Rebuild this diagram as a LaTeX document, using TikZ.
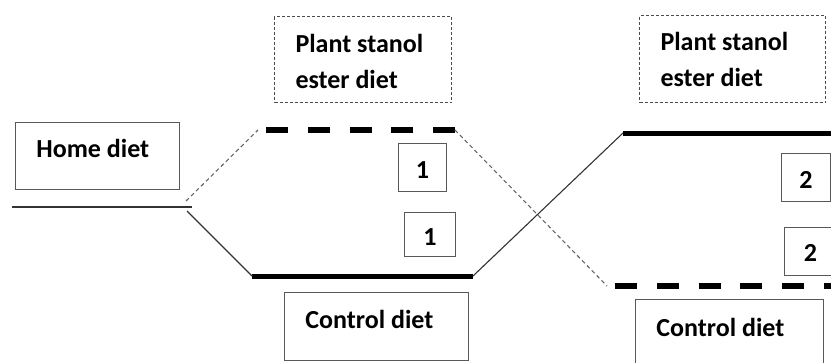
\documentclass[tikz,border=0pt]{standalone}
\usepackage{fontspec}
\setmainfont{Carlito}
\begin{document}
\begin{tikzpicture}[x=1pt,y=-1pt,
  lbl/.style={inner ysep=0pt, inner xsep=21pt, align=flush left, font=\bfseries\fontsize{26}{36}\selectfont, anchor=north west},
  solidbox/.style={lbl, draw=black!65, line width=0.9pt},
  dotbox/.style={lbl, draw=black!70, line width=1pt, dash pattern=on 3pt off 2pt},
  numbox/.style={draw=black!65, line width=0.9pt, inner sep=0pt, font=\bfseries\fontsize{26}{36}\selectfont, anchor=north west, align=center},
  thinline/.style={draw=black!80, line width=1.1pt},
  thindash/.style={draw=black!60, line width=1.1pt, dash pattern=on 4pt off 3pt},
  thickline/.style={draw=black, line width=5pt},
  thickdash/.style={draw=black, line width=5.5pt, dash pattern=on 22pt off 19.8pt}
]
\useasboundingbox (0,0) rectangle (831,362);

% boxes
\node[solidbox, text width=122pt, text height=35pt, text depth=32pt] (home) at (15,122) {Home diet};
\node[dotbox, text width=135pt, text height=36pt, text depth=50pt] (ps1) at (274,16) {Plant stanol\\ester diet};
\node[dotbox, text width=144pt, text height=35pt, text depth=52pt] (ps2) at (639,15) {Plant stanol\\ester diet};
\node[solidbox, text width=142pt, text height=36pt, text depth=32pt] (cd1) at (284,292) {Control diet};
\node[solidbox, text width=146pt, text height=37pt, text depth=40pt] (cd2) at (635,299) {Control diet};

\node[numbox, minimum width=48pt, text height=35pt, text depth=13pt] (n1a) at (398,143) {1};
\node[numbox, minimum width=51pt, text height=33pt, text depth=11pt] (n1b) at (404,212) {1};
\node[numbox, minimum width=49pt, text height=35pt, text depth=13pt] (n2a) at (781,153) {2};
\node[numbox, minimum width=52pt, text height=34pt, text depth=14pt] (n2b) at (784,227) {2};

% level coordinates
\coordinate (h1) at (12,207);
\coordinate (h2) at (192,207);
\coordinate (hu) at (186,201);
\coordinate (hd) at (187,211);
\coordinate (t0) at (258,130);
\coordinate (t1) at (266,130);
\coordinate (t2) at (455,130);
\coordinate (b1) at (252,276);
\coordinate (b2) at (473,276);
\coordinate (r1) at (623,133);
\coordinate (r2) at (831,133);
\coordinate (s0) at (607,286);
\coordinate (s1) at (615,286);
\coordinate (s2) at (835,286);

% levels
\draw[thinline] (h1) -- (h2);
\draw[thickdash] (t1) -- (t2);
\draw[thickline] (b1) -- (b2);
\draw[thickline] (r1) -- (r2);
\draw[thickdash] (s1) -- (s2);

% connectors
\draw[thindash] (hu) -- (t0);
\draw[thinline] (hd) -- (b1);
\draw[thindash] (t2) -- (s0);
\draw[thinline] (b2) -- (r1);
\end{tikzpicture}
\end{document}
